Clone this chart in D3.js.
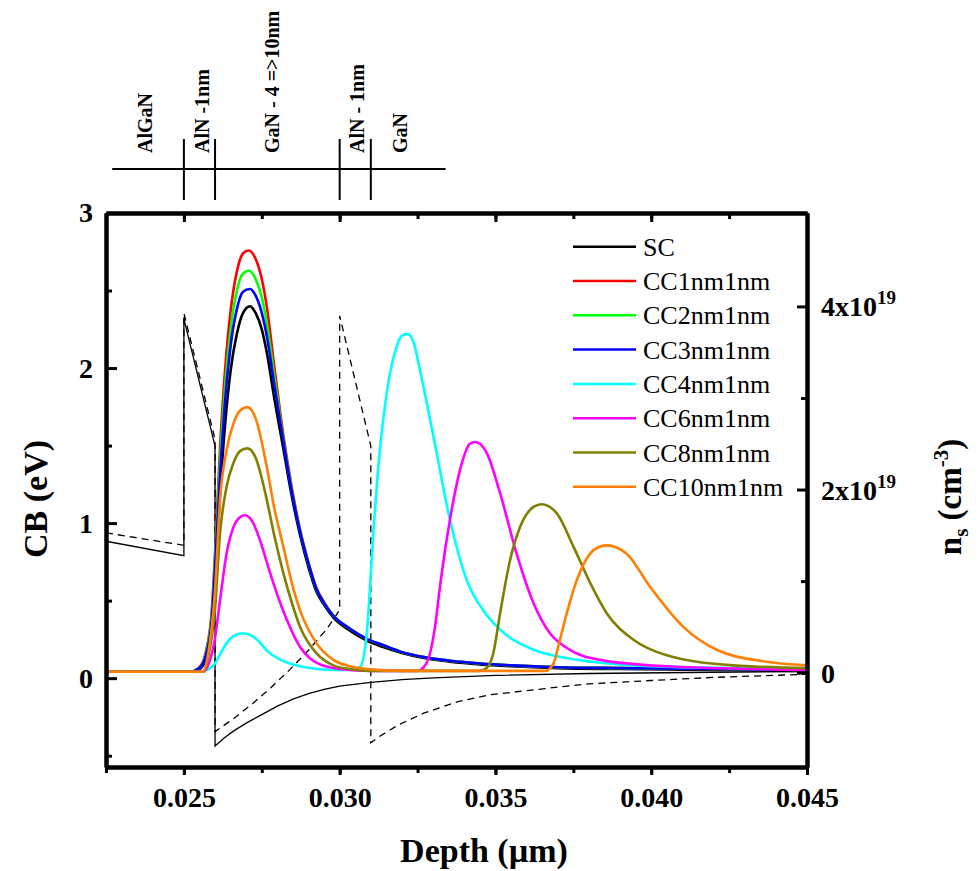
<!DOCTYPE html>
<html>
<head>
<meta charset="utf-8">
<script src="https://cdn.jsdelivr.net/npm/d3@7"></script>
<style>
  body { margin: 0; background: #fff; }
  svg { font-family: "Liberation Serif", "Times New Roman", serif; }
</style>
</head>
<body>
<svg id="chart" width="979" height="871"></svg>
<script>
// layer stack drawn above the plot
var layerNames = ["AlGaN", "AlN -1nm", "GaN - 4 =>10nm", "AlN - 1nm", "GaN"];
var layerLabelAt = [0.02375, 0.02558, 0.02783, 0.03056, 0.03194];
var layerEdges = [0.025, 0.026, 0.030, 0.031];

var xTicks = [0.025, 0.030, 0.035, 0.040, 0.045];
var yLeftTicks = [0, 1, 2, 3];
var yRightTicks = [0, 2, 4]; // x10^19

// conduction band (eV), left axis
var cbSC = [[0.0225,0.883],[0.025,0.79],[0.025,2.317],[0.026,1.497],[0.026,-0.438],[0.0263,-0.385],[0.0266,-0.34],[0.027,-0.29],[0.0275,-0.235],[0.028,-0.18],[0.0285,-0.135],[0.029,-0.1],[0.0295,-0.072],[0.030,-0.052],[0.031,-0.027],[0.032,-0.01],[0.033,0.002],[0.035,0.018],[0.038,0.03],[0.042,0.038],[0.045,0.042]];
var cbCC = [[0.0225,0.937],[0.025,0.857],[0.025,2.355],[0.026,1.54],[0.026,-0.345],[0.0266,-0.26],[0.0272,-0.165],[0.0278,-0.06],[0.0284,0.055],[0.029,0.18],[0.0296,0.32],[0.030,0.44],[0.030,2.337],[0.031,1.497],[0.031,-0.416],[0.0313,-0.373],[0.0319,-0.30],[0.0327,-0.226],[0.0338,-0.151],[0.0348,-0.108],[0.037,-0.058],[0.038,-0.037],[0.040,-0.015],[0.042,0.005],[0.045,0.025]];

// electron density (x10^19 cm^-3), right axis
var nsSC = [[0.0225,0.01],[0.0252,0.01],[0.0255,0.04],[0.0257,0.14],[0.0259,0.5],[0.0260,1.0],[0.02616,1.95],[0.02632,2.7],[0.0265,3.3],[0.0267,3.7],[0.0269,3.93],[0.02712,4.0],[0.0273,3.93],[0.0275,3.75],[0.02766,3.5],[0.0279,3.0],[0.02819,2.45],[0.02845,1.95],[0.02873,1.5],[0.029,1.15],[0.02926,0.88],[0.0295,0.74],[0.0298,0.6],[0.03033,0.46],[0.03087,0.35],[0.0314,0.28],[0.03194,0.22],[0.0327,0.16],[0.03354,0.12],[0.0345,0.09],[0.0355,0.07],[0.037,0.05],[0.039,0.04],[0.042,0.03],[0.045,0.02]];
var nsCC1 = [[0.0225,0.01],[0.0252,0.01],[0.0255,0.06],[0.0257,0.22],[0.0259,0.7],[0.0260,1.3],[0.02616,2.45],[0.02632,3.3],[0.0265,3.95],[0.0267,4.38],[0.0269,4.58],[0.02708,4.61],[0.0273,4.52],[0.0275,4.3],[0.02766,4.0],[0.0279,3.35],[0.02819,2.6],[0.02845,2.05],[0.02873,1.56],[0.029,1.2],[0.02926,0.92],[0.0295,0.77],[0.0298,0.62],[0.03033,0.48],[0.03087,0.37],[0.0314,0.3],[0.03194,0.23],[0.0327,0.17],[0.03354,0.13],[0.0345,0.1],[0.0355,0.08],[0.037,0.06],[0.039,0.05],[0.042,0.04],[0.045,0.03]];
var nsCC2 = [[0.0225,0.01],[0.0252,0.01],[0.0255,0.05],[0.0257,0.2],[0.0259,0.65],[0.0260,1.22],[0.02616,2.3],[0.02632,3.12],[0.0265,3.75],[0.0267,4.17],[0.0269,4.36],[0.0271,4.39],[0.0273,4.3],[0.0275,4.1],[0.02766,3.82],[0.0279,3.25],[0.02819,2.56],[0.02845,2.02],[0.02873,1.55],[0.029,1.19],[0.02926,0.91],[0.0295,0.76],[0.0298,0.62],[0.03033,0.48],[0.03087,0.37],[0.0314,0.3],[0.03194,0.23],[0.0327,0.17],[0.03354,0.13],[0.0345,0.1],[0.0355,0.08],[0.037,0.06],[0.039,0.05],[0.042,0.04],[0.045,0.03]];
var nsCC3 = [[0.0225,0.01],[0.0252,0.01],[0.0255,0.05],[0.0257,0.18],[0.0259,0.6],[0.0260,1.15],[0.02616,2.15],[0.02632,2.95],[0.0265,3.57],[0.0267,3.97],[0.0269,4.16],[0.02712,4.19],[0.0273,4.12],[0.0275,3.93],[0.02766,3.68],[0.0279,3.15],[0.02819,2.53],[0.02845,2.0],[0.02873,1.54],[0.029,1.19],[0.02926,0.91],[0.0295,0.76],[0.0298,0.62],[0.03033,0.48],[0.03087,0.37],[0.0314,0.3],[0.03194,0.23],[0.0327,0.17],[0.03354,0.13],[0.0345,0.1],[0.0355,0.08],[0.037,0.06],[0.039,0.05],[0.042,0.04],[0.045,0.03]];
var nsCC4 = [[0.0225,0.01],[0.0256,0.01],[0.0258,0.04],[0.0260,0.1],[0.02616,0.2],[0.02637,0.32],[0.02659,0.4],[0.02689,0.43],[0.0272,0.4],[0.02744,0.33],[0.0277,0.23],[0.028,0.16],[0.0284,0.1],[0.02873,0.07],[0.0293,0.04],[0.0298,0.03],[0.0304,0.03],[0.03065,0.06],[0.03087,0.43],[0.03108,1.52],[0.03129,2.43],[0.03151,3.05],[0.03183,3.56],[0.032,3.68],[0.03218,3.70],[0.03238,3.6],[0.03258,3.30],[0.03301,2.58],[0.03354,1.67],[0.03408,1.01],[0.03461,0.68],[0.03515,0.47],[0.03622,0.25],[0.03729,0.16],[0.03943,0.08],[0.04263,0.05],[0.045,0.04]];
var nsCC6 = [[0.0225,0.01],[0.0256,0.01],[0.0258,0.1],[0.0260,0.38],[0.02616,0.79],[0.02637,1.3],[0.02659,1.59],[0.02677,1.69],[0.02696,1.72],[0.0272,1.65],[0.02744,1.45],[0.02765,1.22],[0.02787,0.98],[0.0283,0.58],[0.02873,0.28],[0.029,0.17],[0.02937,0.09],[0.03001,0.04],[0.031,0.02],[0.0325,0.02],[0.0327,0.06],[0.0329,0.21],[0.03306,0.5],[0.03322,0.94],[0.03354,1.67],[0.03386,2.21],[0.03418,2.50],[0.03434,2.52],[0.0345,2.5],[0.03472,2.40],[0.03515,1.96],[0.03568,1.30],[0.03622,0.76],[0.03675,0.43],[0.03729,0.27],[0.03836,0.14],[0.0405,0.07],[0.045,0.03]];
var nsCC8 = [[0.0225,0.01],[0.0256,0.01],[0.0258,0.2],[0.0260,0.7],[0.02616,1.52],[0.02637,2.03],[0.02659,2.29],[0.0268,2.42],[0.02704,2.45],[0.0273,2.35],[0.02766,1.89],[0.0279,1.5],[0.02819,1.09],[0.02845,0.78],[0.02873,0.50],[0.02926,0.21],[0.0298,0.08],[0.03033,0.04],[0.031,0.02],[0.0345,0.02],[0.03472,0.05],[0.03493,0.21],[0.03515,0.65],[0.03547,1.23],[0.03579,1.59],[0.03622,1.81],[0.03648,1.84],[0.03697,1.74],[0.0375,1.38],[0.03804,0.98],[0.03857,0.65],[0.03943,0.36],[0.0405,0.19],[0.04263,0.08],[0.045,0.05]];
var nsCC10 = [[0.0225,0.01],[0.0256,0.01],[0.0258,0.25],[0.0260,0.9],[0.02616,1.89],[0.02637,2.43],[0.02659,2.72],[0.0268,2.86],[0.02704,2.90],[0.0273,2.78],[0.02766,2.25],[0.0279,1.8],[0.02819,1.38],[0.02845,1.0],[0.02873,0.68],[0.02926,0.32],[0.0298,0.14],[0.03033,0.07],[0.03087,0.04],[0.032,0.02],[0.0366,0.02],[0.03686,0.10],[0.03707,0.36],[0.03729,0.65],[0.03761,1.01],[0.03804,1.30],[0.0383,1.37],[0.03857,1.39],[0.03921,1.30],[0.03996,0.94],[0.04103,0.50],[0.0421,0.25],[0.0437,0.12],[0.045,0.08]];

var seriesNames = ["SC", "CC1nm1nm", "CC2nm1nm", "CC3nm1nm", "CC4nm1nm", "CC6nm1nm", "CC8nm1nm", "CC10nm1nm"];
var seriesData = [nsSC, nsCC1, nsCC2, nsCC3, nsCC4, nsCC6, nsCC8, nsCC10];
var seriesColors = ["#000000", "#ff0000", "#00ff00", "#0000ff", "#00ffff", "#ff00ff", "#808000", "#ff8000"];

var svg = d3.select("#chart");
var L = 106, R = 807, T = 213, B = 767;

var x = d3.scaleLinear().domain([0.0225, 0.045]).range([L, R]);
var yL = d3.scaleLinear().domain([-0.573, 3]).range([B, T]);
var yR = d3.scaleLinear().domain([-1.03, 5.02]).range([B, T]);

svg.append("clipPath").attr("id", "plot").append("rect")
    .attr("x", L).attr("y", T).attr("width", R - L).attr("height", B - T);

var g = svg.append("g").attr("clip-path", "url(#plot)");

// band edges
var cbLine = d3.line().x(function(d) { return x(d[0]); }).y(function(d) { return yL(d[1]); });
g.append("path").attr("d", cbLine(cbSC))
    .attr("fill", "none").attr("stroke", "#000").attr("stroke-width", 1.3);
g.append("path").attr("d", cbLine(cbCC))
    .attr("fill", "none").attr("stroke", "#000").attr("stroke-width", 1.3)
    .attr("stroke-dasharray", "7,5");

// densities
var nsLine = d3.line().curve(d3.curveMonotoneX)
    .x(function(d) { return x(d[0]); }).y(function(d) { return yR(d[1]); });
seriesData.forEach(function(s, i) {
    g.append("path").attr("d", nsLine(s))
        .attr("fill", "none").attr("stroke", seriesColors[i]).attr("stroke-width", 2.6);
});

// axes
var fmt = d3.format(".3f");
var xMinor = d3.range(0.0225, 0.0451, 0.0025);

svg.append("g").attr("transform", "translate(0," + B + ")")
    .call(d3.axisBottom(x).tickValues(xTicks).tickFormat(fmt).tickSizeInner(8).tickSizeOuter(0).tickPadding(12));
svg.append("g").attr("transform", "translate(0," + B + ")")
    .call(d3.axisBottom(x).tickValues(xMinor).tickFormat("").tickSizeInner(6).tickSizeOuter(0));
svg.append("g").attr("transform", "translate(0," + T + ")")
    .call(d3.axisTop(x).tickValues(xTicks).tickFormat("").tickSizeInner(-9).tickSizeOuter(0));
svg.append("g").attr("transform", "translate(0," + T + ")")
    .call(d3.axisTop(x).tickValues(xMinor).tickFormat("").tickSizeInner(-6).tickSizeOuter(0));

svg.append("g").attr("transform", "translate(" + L + ",0)")
    .call(d3.axisLeft(yL).tickValues(yLeftTicks).tickFormat(d3.format("d")).tickSizeInner(-11).tickSizeOuter(0).tickPadding(13));
svg.append("g").attr("transform", "translate(" + L + ",0)")
    .call(d3.axisLeft(yL).tickValues([-0.5, 0.5, 1.5, 2.5]).tickFormat("").tickSizeInner(-6).tickSizeOuter(0));

svg.append("g").attr("transform", "translate(" + R + ",0)")
    .call(d3.axisRight(yR).tickValues(yRightTicks).tickFormat("").tickSizeInner(-10).tickSizeOuter(0));
svg.append("g").attr("transform", "translate(" + R + ",0)")
    .call(d3.axisRight(yR).tickValues([1, 3]).tickFormat("").tickSizeInner(-6).tickSizeOuter(0));

svg.selectAll(".domain").attr("stroke-width", 4);
svg.selectAll(".tick line").attr("stroke-width", 3);
svg.selectAll(".tick text").attr("font-size", 28).attr("font-weight", "bold")
    .attr("font-family", "Liberation Serif, Times New Roman, serif").attr("fill", "#000");

// right-axis labels with exponents
yRightTicks.forEach(function(v) {
    var t = svg.append("text").attr("x", R + 14).attr("y", yR(v) + 10)
        .attr("font-size", 28).attr("font-weight", "bold");
    if (v === 0) { t.text("0"); return; }
    t.append("tspan").text(v + "x10");
    t.append("tspan").attr("font-size", 19).attr("dy", -12).text("19");
});

// axis titles
svg.append("text").attr("transform", "translate(47,499) rotate(-90)")
    .attr("text-anchor", "middle").attr("font-size", 34).attr("font-weight", "bold").text("CB (eV)");
svg.append("text").attr("x", 484).attr("y", 862)
    .attr("text-anchor", "middle").attr("font-size", 34).attr("font-weight", "bold").text("Depth (\u00b5m)");
var nt = svg.append("text").attr("transform", "translate(961,497) rotate(-90)")
    .attr("text-anchor", "middle").attr("font-size", 33).attr("font-weight", "bold");
nt.append("tspan").text("n");
nt.append("tspan").attr("font-size", 21).attr("dy", 7).text("s");
nt.append("tspan").attr("dy", -7).text(" (cm");
nt.append("tspan").attr("font-size", 21).attr("dy", -13).text("-3");
nt.append("tspan").attr("dy", 13).text(")");

// legend
var legend = svg.append("g");
seriesNames.forEach(function(name, i) {
    var ly = 246.7 + i * 34.3;
    legend.append("line").attr("x1", 573).attr("x2", 636).attr("y1", ly).attr("y2", ly)
        .attr("stroke", seriesColors[i]).attr("stroke-width", 2.5);
    legend.append("text").attr("x", 643).attr("y", ly + 9).attr("font-size", 26).text(name);
});

// layer diagram
var lay = svg.append("g");
lay.append("line").attr("x1", x(0.0227)).attr("x2", x(0.0334)).attr("y1", 169).attr("y2", 169)
    .attr("stroke", "#000").attr("stroke-width", 2);
lay.selectAll("line.edge").data(layerEdges).enter().append("line").attr("class", "edge")
    .attr("x1", function(d) { return x(d); }).attr("x2", function(d) { return x(d); })
    .attr("y1", 139).attr("y2", 200).attr("stroke", "#000").attr("stroke-width", 2);
lay.selectAll("text").data(layerNames).enter().append("text")
    .attr("transform", function(d, i) { return "translate(" + (x(layerLabelAt[i]) + 7) + ",153) rotate(-90)"; })
    .attr("font-size", 20).attr("font-weight", "bold").text(function(d) { return d; });
</script>
</body>
</html>
